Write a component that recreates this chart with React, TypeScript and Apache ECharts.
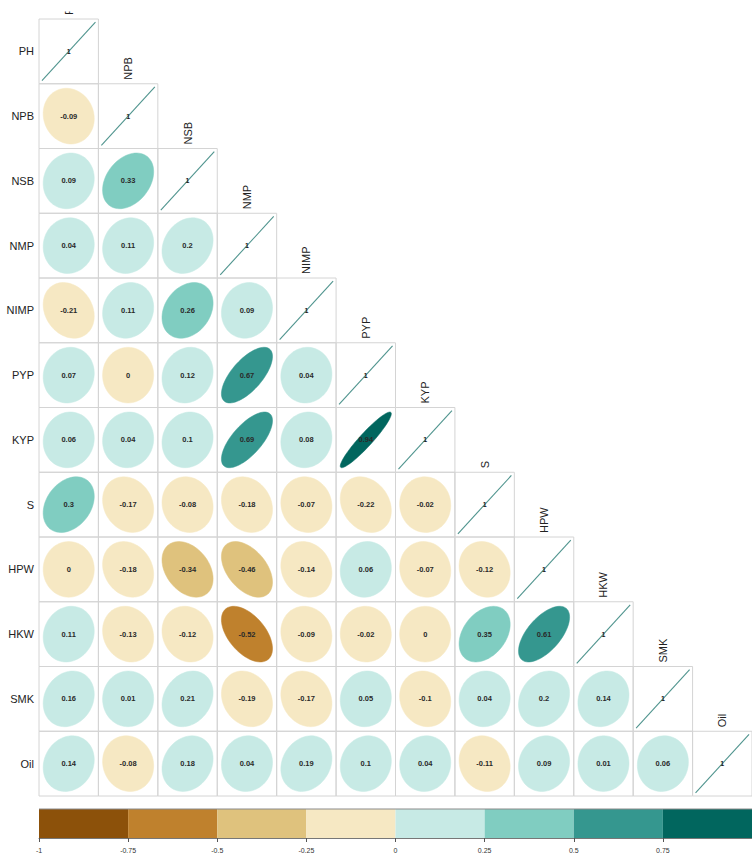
import React, { useEffect, useRef } from "react";
import * as echarts from "echarts";

// ---- data ----
const variables = ["PH", "NPB", "NSB", "NMP", "NIMP", "PYP", "KYP", "S", "HPW", "HKW", "SMK", "Oil"];

// lower-triangle correlations, row by row (values for columns left of the diagonal)
const corrPH: number[] = [];
const corrNPB = [-0.09];
const corrNSB = [0.09, 0.33];
const corrNMP = [0.04, 0.11, 0.2];
const corrNIMP = [-0.21, 0.11, 0.26, 0.09];
const corrPYP = [0.07, 0, 0.12, 0.67, 0.04];
const corrKYP = [0.06, 0.04, 0.1, 0.69, 0.08, 0.94];
const corrS = [0.3, -0.17, -0.08, -0.18, -0.07, -0.22, -0.02];
const corrHPW = [0, -0.18, -0.34, -0.46, -0.14, 0.06, -0.07, -0.12];
const corrHKW = [0.11, -0.13, -0.12, -0.52, -0.09, -0.02, 0, 0.35, 0.61];
const corrSMK = [0.16, 0.01, 0.21, -0.19, -0.17, 0.05, -0.1, 0.04, 0.2, 0.14];
const corrOil = [0.14, -0.08, 0.18, 0.04, 0.19, 0.1, 0.04, -0.11, 0.09, 0.01, 0.06];

const lowerRows = [corrPH, corrNPB, corrNSB, corrNMP, corrNIMP, corrPYP, corrKYP, corrS, corrHPW, corrHKW, corrSMK, corrOil];

const binBreaks = [-1, -0.75, -0.5, -0.25, 0, 0.25, 0.5, 0.75, 1];
const binColors = ["#8C510A", "#BF812D", "#DFC27D", "#F6E8C3", "#C7EAE5", "#80CDC1", "#35978F", "#01665E"];

const FONT = "Liberation Sans, Arial, sans-serif";

function colorFor(r: number): string {
  for (let k = 0; k < binColors.length; k++) {
    if (r <= binBreaks[k + 1]) return binColors[k];
  }
  return binColors[binColors.length - 1];
}

export default function App() {
  const ref = useRef<HTMLDivElement>(null);

  useEffect(() => {
    if (!ref.current) return;
    const chart = echarts.init(ref.current, undefined, { renderer: "svg" });

    const cellData: number[][] = [];
    for (let i = 0; i < variables.length; i++) {
      for (let j = 0; j <= i; j++) {
        cellData.push([j, i, i === j ? 1 : lowerRows[i][j]]);
      }
    }
    const barData = binColors.map((_, k) => [binBreaks[k], binBreaks[k + 1], k]);

    const renderCell = (params: any, api: any) => {
      const j = api.value(0);
      const i = api.value(1);
      const r = api.value(2);
      const c = api.coord([j, i]);
      const s = api.size([1, 1]);
      const w = s[0];
      const h = s[1];
      const x0 = c[0] - w / 2;
      const y0 = c[1] - h / 2;
      const children: any[] = [
        {
          type: "rect",
          shape: { x: x0, y: y0, width: w, height: h },
          style: { fill: "none", stroke: "#d4d4d4", lineWidth: 1 },
        },
      ];
      if (i === j) {
        children.push({
          type: "line",
          shape: { x1: c[0] - 0.45 * w, y1: c[1] + 0.45 * h, x2: c[0] + 0.45 * w, y2: c[1] - 0.45 * h },
          style: { stroke: "#4f948e", lineWidth: 1.1 },
        });
        children.push({
          type: "text",
          x: c[0],
          y: c[1],
          style: {
            text: "1",
            fill: "#222",
            fontSize: 7,
            fontWeight: "bold",
            fontFamily: FONT,
            align: "center",
            verticalAlign: "middle",
            textAlign: "center",
            textVerticalAlign: "middle",
          },
        });
        children.push({
          type: "text",
          x: c[0],
          y: y0 - 4,
          rotation: Math.PI / 2,
          style: {
            text: variables[i],
            fill: "#222",
            fontSize: 11,
            fontFamily: FONT,
            align: "left",
            verticalAlign: "middle",
            textAlign: "left",
            textVerticalAlign: "middle",
          },
        });
      } else {
        const d = Math.acos(r);
        const pts: number[][] = [];
        const n = 72;
        for (let k = 0; k < n; k++) {
          const t = (2 * Math.PI * k) / n;
          pts.push([c[0] + 0.43 * w * Math.cos(t + d / 2), c[1] - 0.43 * h * Math.cos(t - d / 2)]);
        }
        const col = colorFor(r);
        children.push({
          type: "polygon",
          shape: { points: pts },
          style: { fill: col, stroke: col, lineWidth: 0.5 },
        });
        children.push({
          type: "text",
          x: c[0],
          y: c[1],
          style: {
            text: String(r),
            fill: "#2a2a2a",
            fontSize: 7.5,
            fontWeight: "bold",
            fontFamily: FONT,
            align: "center",
            verticalAlign: "middle",
            textAlign: "center",
            textVerticalAlign: "middle",
          },
        });
      }
      return { type: "group", children };
    };

    const renderBar = (params: any, api: any) => {
      const p0 = api.coord([api.value(0), 1]);
      const p1 = api.coord([api.value(1), 0]);
      return {
        type: "rect",
        shape: { x: p0[0], y: p0[1], width: p1[0] - p0[0], height: p1[1] - p0[1] },
        style: { fill: binColors[api.value(2)], stroke: "none" },
      };
    };

    chart.setOption({
      animation: false,
      backgroundColor: "#ffffff",
      textStyle: { fontFamily: FONT },
      grid: [
        { left: 39, top: 19, width: 718, height: 777 },
        { left: 39, top: 809, width: 714, height: 29 },
      ],
      graphic: [
        {
          type: "rect",
          z: 100,
          shape: { x: 0, y: 0, width: 752, height: 11.5 },
          style: { fill: "#ffffff" },
          silent: true,
        },
        {
          type: "line",
          z: 100,
          shape: { x1: 39, y1: 809, x2: 752, y2: 809 },
          style: { stroke: "#8a8a8a", lineWidth: 1 },
          silent: true,
        },
      ],
      xAxis: [
        {
          gridIndex: 0,
          type: "category",
          data: variables,
          show: false,
        },
        {
          gridIndex: 1,
          type: "value",
          min: -1,
          max: 1,
          interval: 0.25,
          axisLine: { show: true, lineStyle: { color: "#777", width: 1 } },
          axisTick: { show: true, length: 4, lineStyle: { color: "#555" } },
          axisLabel: {
            fontSize: 7,
            color: "#333",
            margin: 9,
            showMaxLabel: false,
            fontFamily: FONT,
          },
          splitLine: { show: false },
        },
      ],
      yAxis: [
        {
          gridIndex: 0,
          type: "category",
          data: variables,
          inverse: true,
          axisLine: { show: false },
          axisTick: { show: false },
          axisLabel: { fontSize: 11, color: "#222", margin: 5, fontFamily: FONT },
          splitLine: { show: false },
        },
        {
          gridIndex: 1,
          type: "value",
          min: 0,
          max: 1,
          show: false,
        },
      ],
      series: [
        {
          type: "custom",
          xAxisIndex: 0,
          yAxisIndex: 0,
          renderItem: renderCell,
          data: cellData,
          encode: { x: 0, y: 1 },
          clip: false,
          silent: true,
        },
        {
          type: "custom",
          xAxisIndex: 1,
          yAxisIndex: 1,
          renderItem: renderBar,
          data: barData,
          encode: { x: [0, 1] },
          silent: true,
        },
      ],
    });

    return () => {
      chart.dispose();
    };
  }, []);

  return (
    <div
      ref={ref}
      style={{ position: "absolute", left: 0, top: 0, width: "752px", height: "855px" }}
    />
  );
}
